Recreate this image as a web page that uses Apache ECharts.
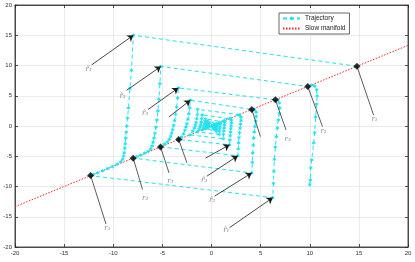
<!DOCTYPE html>
<html><head><meta charset="utf-8">
<script src="https://cdn.jsdelivr.net/npm/echarts@6/dist/echarts.min.js"></script>
<style>html,body{margin:0;padding:0;background:#fff}#c{width:415px;height:262px}</style>
</head><body><div id="c"></div>
<script>
// axis ticks
const xTicks = [-20, -15, -10, -5, 0, 5, 10, 15, 20];
const yTicks = [-20, -15, -10, -5, 0, 5, 10, 15, 20];

// slow manifold end points
const manifoldX = [-20, 20];
const manifoldY = [-13.33, 13.33];

// switching points on the slow manifold (diamonds)
const switchX = [14.8, 9.8, 6.5, 4.1, -12.3, -7.97, -5.19, -3.34];
const switchY = [9.87, 6.53, 4.33, 2.73, -8.2, -5.31, -3.46, -2.23];

// trajectory, first branch
const trajA = [
  [14.8,9.87],[-7.95,15.0],
  [-8.15,9.2],[-8.3,6.2],[-8.45,3.0],[-8.55,1.3],[-8.62,0],[-8.68,-1.0],[-8.73,-2.0],[-8.78,-2.9],[-8.83,-3.7],[-8.88,-4.4],[-8.95,-5.0],[-9.05,-5.5],[-9.25,-5.95],[-9.6,-6.3],[-10.1,-6.7],[-10.6,-7.05],[-11.1,-7.4],[-11.6,-7.73],[-12.0,-8.0],[-12.3,-8.2],
  [6.23,-11.85],[6.3,-9.5],[6.35,-7.5],[6.4,-5.5],[6.5,-3.5],[6.6,-1.8],[6.7,-0.3],[6.8,1.0],[6.9,2.1],[6.95,3.0],[6.9,3.8],[6.75,4.3],[6.5,4.33],
  [-3.37,6.3],[-3.45,4.6],[-3.55,3.1],[-3.65,1.9],[-3.75,0.9],[-3.85,0.1],[-3.95,-0.6],[-4.05,-1.2],[-4.15,-1.7],[-4.3,-2.2],[-4.5,-2.65],[-4.8,-3.0],[-5.19,-3.46],
  [2.68,-4.92],[2.72,-3.8],[2.76,-2.8],[2.8,-1.9],[2.85,-1.1],[2.9,-0.4],[2.95,0.3],[3.0,0.9],[3.0,1.5],[2.85,1.85],[2.7,1.8],
  [-1.4,2.75],[-1.45,1.9],[-1.5,1.2],[-1.57,0.6],[-1.65,0.1],[-1.75,-0.35],[-1.9,-0.85],[-2.2,-1.47],
  [1.2,-2.1],[1.22,-1.4],[1.25,-0.8],[1.28,-0.3],[1.32,0.2],[1.35,0.6],[1.32,0.9],[1.2,0.8],
  [-0.62,1.2],[-0.65,0.75],[-0.7,0.35],[-0.75,0],[-0.82,-0.35],[-0.95,-0.63],
  [0.5,-0.9],[0.52,-0.5],[0.55,-0.15],[0.57,0.2],[0.55,0.4],[0.5,0.33],
  [-0.27,0.5],[-0.3,0.2],[-0.33,-0.05],[-0.4,-0.27],
  [0.2,-0.38],[0.22,-0.1],[0.24,0.12],[0.2,0.13],[0,0]
];
// trajectory, second branch
const trajB = [
  [10.0,-9.7],[10.06,-8.9],[10.1,-6.9],[10.2,-5.6],[10.4,-2.8],[10.5,-1.1],[10.6,1.5],[10.7,3.6],[10.75,5.0],[10.7,6.0],[10.5,6.6],[10.2,6.75],[9.8,6.53],
  [-5.15,9.85],[-5.25,7.0],[-5.35,4.5],[-5.45,2.5],[-5.55,1.0],[-5.65,-0.2],[-5.75,-1.2],[-5.85,-2.0],[-5.95,-2.7],[-6.05,-3.3],[-6.2,-3.8],[-6.45,-4.2],[-6.8,-4.5],[-7.2,-4.8],[-7.6,-5.07],[-7.97,-5.31],
  [4.1,-7.75],[4.15,-6.0],[4.2,-4.5],[4.25,-3.2],[4.3,-2.0],[4.35,-1.0],[4.42,-0.1],[4.5,0.8],[4.55,1.6],[4.55,2.3],[4.35,2.75],[4.1,2.73],
  [-2.15,4.26],[-2.22,3.0],[-2.3,2.0],[-2.4,1.1],[-2.5,0.4],[-2.6,-0.2],[-2.7,-0.7],[-2.85,-1.3],[-3.05,-1.8],[-3.34,-2.23],
  [1.84,-3.1],[1.87,-2.3],[1.9,-1.6],[1.93,-1.0],[1.97,-0.45],[2.0,0.05],[2.03,0.5],[2.03,0.95],[1.95,1.25],[1.8,1.2],
  [-0.95,1.85],[-1.0,1.2],[-1.05,0.65],[-1.1,0.2],[-1.17,-0.2],[-1.27,-0.55],[-1.45,-0.97],
  [0.78,-1.4],[0.8,-0.9],[0.83,-0.45],[0.86,-0.05],[0.88,0.35],[0.86,0.58],[0.8,0.53],
  [-0.42,0.8],[-0.45,0.45],[-0.5,0.1],[-0.55,-0.2],[-0.63,-0.42],
  [0.33,-0.6],[0.35,-0.3],[0.37,-0.05],[0.38,0.2],[0.33,0.22],[0,0]
];

// annotation arrows (tail -> head) pointing at the jump points
const arrowTail = [[-12.2,10.1],[-8.64,5.9],[-6.45,2.74],[-4.32,1.52],[1.84,-16.8],[0.31,-11.6],[-0.47,-8.3],[-0.6,-5.3]];
const arrowHead = [[-7.95,15.0],[-5.15,9.85],[-3.37,6.3],[-2.15,4.26],[6.23,-11.85],[4.1,-7.75],[2.68,-4.92],[1.84,-3.1]];
const arrowLabelPos = [[-12.5,9.4],[-9.05,5.0],[-6.75,2.1],[1.5,-17.3],[0.05,-12.2],[-0.75,-9.0]];
const arrowLabelText = ['r̃₁','r̃₂','r̃₃','r̃₁','r̃₂','r̃₃'];

// leader lines from the switching points
const leaderFrom = [[-12.3,-8.2],[-7.97,-5.31],[-5.19,-3.46],[-3.34,-2.23],[14.8,9.87],[9.8,6.53],[6.5,4.33],[4.1,2.73]];
const leaderTo = [[-10.74,-16.2],[-7.02,-10.5],[-4.32,-7.76],[-2.5,-6.1],[16.5,1.8],[11.3,-0.1],[7.59,-0.66],[4.98,-1.75]];
const leaderLabelPos = [[-10.6,-16.9],[-6.75,-12.0],[-4.2,-9.1],[16.6,1.2],[11.4,-0.9],[7.75,-2.2]];
const leaderLabelText = ['r₁','r₂','r₃','r₁','r₂','r₃'];

const cyan = '#22e2f0';
const star = 'path://M0,-10 L2.2,-3.8 L8.7,-5 L4.4,0 L8.7,5 L2.2,3.8 L0,10 L-2.2,3.8 L-8.7,5 L-4.4,0 L-8.7,-5 L-2.2,-3.8 Z';

function trajSeries(data) {
  return {
    name: 'Trajectory', type: 'line', data: data, z: 3,
    symbol: star, symbolSize: 4.5, showSymbol: true, showAllSymbol: true,
    itemStyle: { color: cyan },
    lineStyle: { color: cyan, width: 1, type: [4, 3] },
    emphasis: { disabled: true }, animation: false
  };
}

const axisCommon = {
  type: 'value', min: -20, max: 20, interval: 5,
  axisLine: { onZero: false, lineStyle: { color: '#262626', width: 0.8 } },
  axisTick: { inside: true, length: 3, lineStyle: { color: '#262626', width: 0.8 } },
};

const chart = echarts.init(document.getElementById('c'), null, { renderer: 'canvas' });
chart.setOption({
  animation: false,
  backgroundColor: '#fff',
  grid: { left: 15, right: 7, top: 5, bottom: 15, show: true, borderColor: '#262626', borderWidth: 0.8, containLabel: false, outerBoundsMode: 'none' },
  xAxis: [
    Object.assign({}, axisCommon, {
      position: 'bottom',
      axisLabel: { fontSize: 6, color: '#333', margin: 3, fontFamily: 'Liberation Sans', formatter: v => xTicks.includes(v) ? String(v) : '' },
      splitLine: { show: true, lineStyle: { color: '#e3e3e3', width: 0.7 } },
      name: 'x', nameLocation: 'middle', nameGap: 9,
      nameTextStyle: { fontSize: 6, color: '#333', fontStyle: 'italic', fontFamily: 'DejaVu Serif' }
    }),
    Object.assign({}, axisCommon, { position: 'top', axisLabel: { show: false }, splitLine: { show: false } })
  ],
  yAxis: [
    Object.assign({}, axisCommon, {
      position: 'left',
      axisLabel: { fontSize: 6, color: '#333', margin: 3, fontFamily: 'Liberation Sans', formatter: v => yTicks.includes(v) ? String(v) : '' },
      splitLine: { show: true, lineStyle: { color: '#e3e3e3', width: 0.7 } }
    }),
    Object.assign({}, axisCommon, { position: 'right', axisLabel: { show: false }, splitLine: { show: false } })
  ],
  legend: {
    data: ['Trajectory', { name: 'Slow manifold', itemStyle: { color: 'transparent', borderWidth: 0 } }],
    orient: 'vertical', left: 279, top: 13,
    itemWidth: 17, itemHeight: 6, itemGap: 3, padding: [2, 4, 2, 3],
    textStyle: { fontSize: 6.5, color: '#1a1a1a', fontFamily: 'Liberation Sans' },
    backgroundColor: '#fff', borderColor: '#262626', borderWidth: 0.7, borderRadius: 0,
    selectedMode: false
  },
  series: [
    {
      name: 'Slow manifold', type: 'line', z: 2, symbol: 'none', showSymbol: false,
      data: manifoldX.map((x, i) => [x, manifoldY[i]]),
      lineStyle: { color: '#ff2020', width: 1, type: [1.5, 1.5] },
      itemStyle: { color: '#ff2020' }
    },
    trajSeries(trajA),
    trajSeries(trajB),
    {
      type: 'lines', coordinateSystem: 'cartesian2d', z: 5, silent: true,
      data: leaderFrom.map((p, i) => ({ coords: [p, leaderTo[i]] })),
      symbol: ['none', 'none'],
      lineStyle: { color: '#333', width: 0.8, opacity: 1 }
    },
    {
      type: 'lines', coordinateSystem: 'cartesian2d', z: 5, silent: true,
      data: arrowTail.map((p, i) => ({ coords: [p, arrowHead[i]] })),
      symbol: ['none', 'arrow'], symbolSize: [0, 6],
      lineStyle: { color: '#1a1a1a', width: 0.8, opacity: 1 }
    },
    {
      type: 'scatter', z: 6, symbol: 'diamond', symbolSize: 7,
      data: switchX.map((x, i) => [x, switchY[i]]),
      itemStyle: { color: '#000' }
    },
    {
      type: 'scatter', z: 7, symbolSize: 1, silent: true,
      data: arrowLabelPos.map((p, i) => ({ value: p, name: arrowLabelText[i] }))
        .concat(leaderLabelPos.map((p, i) => ({ value: p, name: leaderLabelText[i] }))),
      itemStyle: { color: 'transparent' },
      label: { show: true, position: 'inside', formatter: '{b}', fontSize: 7, color: '#666', fontStyle: 'italic', fontFamily: 'DejaVu Serif' }
    }
  ]
});
</script></body></html>
